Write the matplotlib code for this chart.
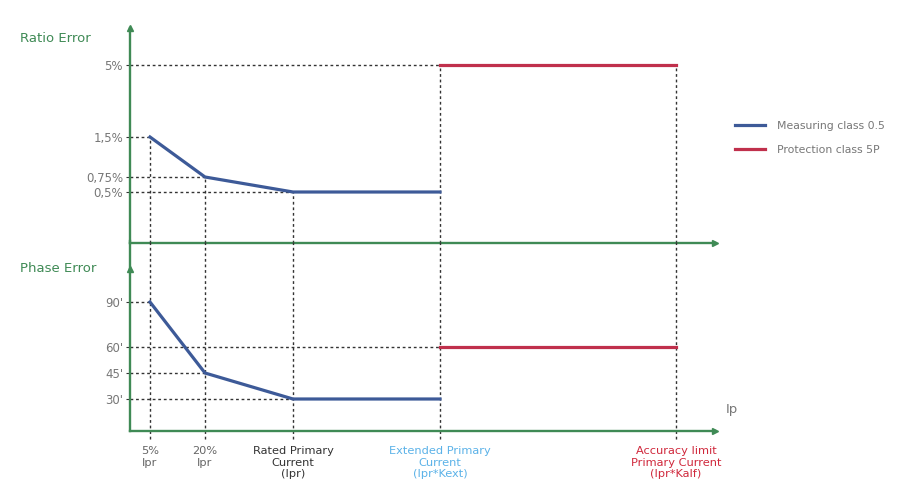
import numpy as np
import matplotlib.pyplot as plt

plt.rcParams['font.family'] = ['DejaVu Sans']

# Data
categorias = ["5%\nIpr", "20%\nIpr", "Rated Primary\nCurrent\n(Ipr)",
              "Extended Primary\nCurrent\n(Ipr*Kext)",
              "Accuracy limit\nPrimary Current\n(Ipr*Kalf)"]
cores_cat = ["#666666", "#666666", "#333333", "#5bb2e8", "#d0283c"]

ratio_medicao = [1.5, 0.75, 0.5, 0.5]      # Measuring class 0.5 (categories 0-3)
ratio_protecao = [5, 5]                    # Protection class 5P (categories 3-4)
fase_medicao = [90, 45, 30, 30]
fase_protecao = [60, 60]

ratio_ticks = [0.5, 0.75, 1.5, 5]
ratio_labels = ["0,5%", "0,75%", "1,5%", "5%"]
fase_ticks = [30, 45, 60, 90]
fase_labels = ["30'", "45'", "60'", "90'"]

# Layout (schematic, not to scale)
x_pos = [20, 75, 163, 310, 546]
x_max = 585
ratio_escala = ([0, 0.5, 0.75, 1.5, 5, 6], [0, 51, 66, 106, 178, 215])
fase_escala = ([0, 30, 45, 60, 90, 110], [0, 32, 58, 84, 129, 162])

VERDE = "#3f8a55"
AZUL = "#3d5a98"
VERMELHO = "#c0304c"
CINZA = "#777777"
FS = 8.5


def escala(ax, pares):
    v, p = pares
    fwd = lambda y: np.interp(y, v, p)
    inv = lambda y: np.interp(y, p, v)
    ax.set_yscale('function', functions=(fwd, inv))
    ax.set_ylim(v[0], v[-1])


def eixos(ax):
    for s in ['top', 'right']:
        ax.spines[s].set_visible(False)
    for s in ['left', 'bottom']:
        ax.spines[s].set_color(VERDE)
        ax.spines[s].set_linewidth(1.7)
    ax.plot(0, 1, marker='^', color=VERDE, markersize=5, transform=ax.transAxes, clip_on=False)
    ax.plot(1, 0, marker='>', color=VERDE, markersize=5, transform=ax.transAxes, clip_on=False)
    ax.set_xlim(0, x_max)
    ax.tick_params(axis='y', length=3, color='#333333', labelsize=FS, labelcolor=CINZA, pad=2)


fig = plt.figure(figsize=(9.03, 4.93), dpi=100)
ax1 = fig.add_axes([130 / 903, 250 / 493, 585 / 903, 215 / 493])
ax2 = fig.add_axes([130 / 903, 62 / 493, 585 / 903, 162 / 493])

traco = dict(color='#333333', linewidth=1, linestyle=(0, (2, 2)))

# Ratio error
escala(ax1, ratio_escala)
eixos(ax1)
l1, = ax1.plot(x_pos[:4], ratio_medicao, color=AZUL, linewidth=2.3, label="Measuring class 0.5", zorder=3)
l2, = ax1.plot(x_pos[3:], ratio_protecao, color=VERMELHO, linewidth=2.3, label="Protection class 5P", zorder=3)
topo_ratio = ratio_medicao[:3] + ratio_protecao
for x, y in zip(x_pos, topo_ratio):
    ax1.plot([x, x], [0, y], **traco)
for x, y in zip(x_pos[:3] + [x_pos[3]], ratio_medicao[:3] + [ratio_protecao[0]]):
    ax1.plot([0, x], [y, y], **traco)
ax1.set_yticks(ratio_ticks, ratio_labels)
ax1.set_xticks([])

# Phase error
escala(ax2, fase_escala)
eixos(ax2)
ax2.plot(x_pos[:4], fase_medicao, color=AZUL, linewidth=2.3, zorder=3)
ax2.plot(x_pos[3:], fase_protecao, color=VERMELHO, linewidth=2.3, zorder=3)
for x in x_pos:
    ax2.axvline(x, ymin=-0.05, ymax=1.17, clip_on=False, **traco)
for x, y in zip(x_pos[:3] + [x_pos[3]], fase_medicao[:3] + [fase_protecao[0]]):
    ax2.plot([0, x], [y, y], **traco)
ax2.plot([0, 0], [1, 1.17], color=VERDE, linewidth=1.7, transform=ax2.transAxes, clip_on=False)
ax2.set_yticks(fase_ticks, fase_labels)
ax2.set_xticks(x_pos, categorias)
ax2.tick_params(axis='x', length=0, pad=11, labelsize=FS - 0.3)
for lab, c in zip(ax2.get_xticklabels(), cores_cat):
    lab.set_color(c)
    lab.set_linespacing(1.2)

fig.text(20 / 903, 1 - 38 / 493, "Ratio Error", color=VERDE, fontsize=FS + 1, va='center')
fig.text(20 / 903, 1 - 268 / 493, "Phase Error", color=VERDE, fontsize=FS + 1, va='center')
fig.text(726 / 903, 1 - 409 / 493, "Ip", color=CINZA, fontsize=FS + 1, va='center')

fig.legend(handles=[l1, l2], loc='center left', bbox_to_anchor=(0.803, 0.721), frameon=False,
           fontsize=7.8, labelcolor=CINZA, handlelength=2.8, handletextpad=1.1, labelspacing=1.3)

fig.savefig("out.png", dpi=100)
